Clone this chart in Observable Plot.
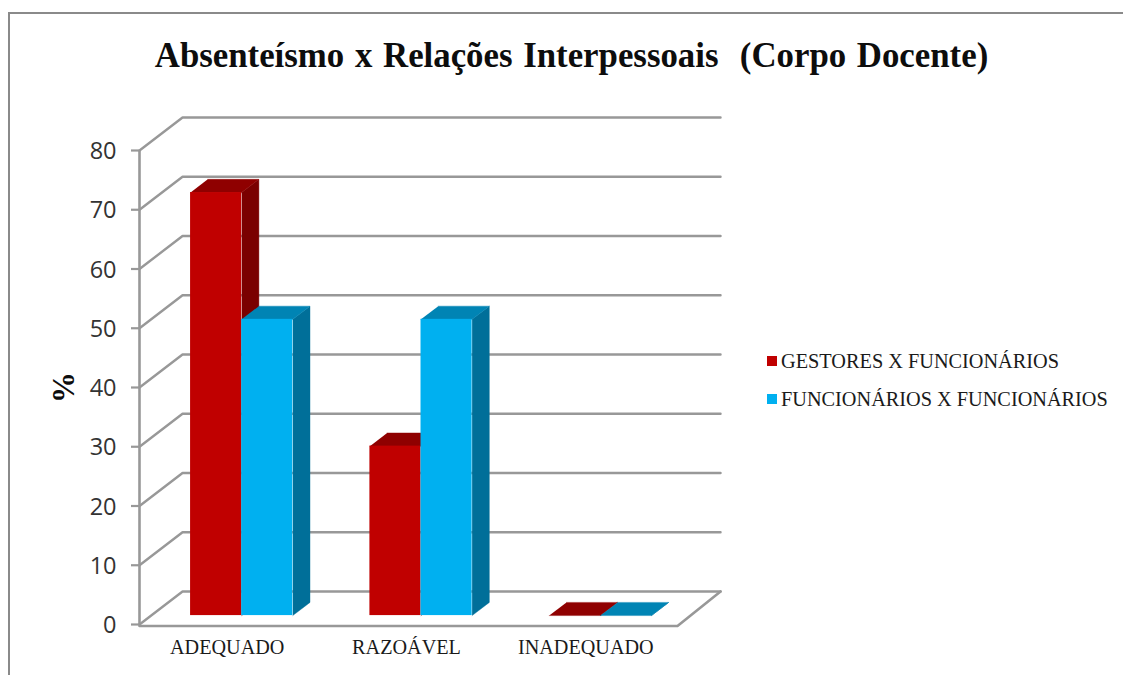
<!DOCTYPE html>
<html lang="pt">
<head>
<meta charset="utf-8">
<title>Absenteísmo x Relações Interpessoais</title>
<script src="https://cdn.jsdelivr.net/npm/d3@7"></script>
<script src="https://cdn.jsdelivr.net/npm/@observablehq/plot@0.6"></script>
<style>
  html, body { margin: 0; padding: 0; background: #fff; overflow: hidden; }
  #page { position: relative; width: 1123px; height: 675px; overflow: hidden; font-family: "Liberation Serif", serif; }
  #frame { position: absolute; left: 8px; top: 12px; width: 1200px; height: 800px; border: 2.5px solid #8a8a8a; box-sizing: border-box; }
  #chart { position: absolute; left: 0; top: 0; }
  #title { position: absolute; left: 0; top: 35px; width: 1143px; margin: 0; text-align: center; font-size: 34.8px; font-weight: bold; color: #0d0d0d; white-space: pre; word-spacing: 2px; line-height: 42px; }
  .key { position: absolute; left: 767px; font-size: 20.3px; line-height: 22px; color: #1a1a1a; white-space: nowrap; display: flex; align-items: center; }
  .key i { display: block; width: 10px; height: 10px; margin-right: 4px; }
</style>
</head>
<body>
<div id="page">
  <div id="frame"></div>
  <div id="chart"></div>
  <h1 id="title">Absenteísmo x Relações Interpessoais  (Corpo Docente)</h1>
</div>
<script>
const categories = ["ADEQUADO", "RAZOÁVEL", "INADEQUADO"];
const seriesNames = ["GESTORES X FUNCIONÁRIOS", "FUNCIONÁRIOS X FUNCIONÁRIOS"];
const gestores = [71.4, 28.6, 0];
const funcionarios = [50, 50, 0];
const yTicks = [0, 10, 20, 30, 40, 50, 60, 70, 80];

const frontColors = ["#c00000", "#00b0f0"];
const topColors = ["#8f0000", "#0084b4"];
const sideColors = ["#7a0000", "#006f99"];
const gridColor = "#989898";

// Oblique projection: depth 0 is the front of the floor, depth 1 the back wall.
const depthX = 0.24;   // category units per unit of depth
const depthY = 5.57;   // value units per unit of depth
const px = (c, d) => c + depthX * d;
const py = (v, d) => v + depthY * d;

// Bars stand between these two depths, and inside each category slot.
const barFront = 0.27;
const barBack = 0.67;
const groupStart = 0.22;
const barWidth = 0.285;

const faces = [];
const fronts = [];
[gestores, funcionarios].forEach((values, s) => {
  values.forEach((v, c) => {
    const x0 = c + groupStart + s * barWidth;
    const x1 = x0 + barWidth;
    const polygon = (name, fill, corners) => corners.forEach(([x, y]) =>
      faces.push({id: `${s}-${c}-${name}`, order: s * 10 + c, fill, x, y}));
    polygon("side", sideColors[s], [
      [px(x1, barFront), py(0, barFront)], [px(x1, barBack), py(0, barBack)],
      [px(x1, barBack), py(v, barBack)], [px(x1, barFront), py(v, barFront)]
    ]);
    polygon("top", topColors[s], [
      [px(x0, barFront), py(v, barFront)], [px(x1, barFront), py(v, barFront)],
      [px(x1, barBack), py(v, barBack)], [px(x0, barBack), py(v, barBack)]
    ]);
    if (v > 0) fronts.push({
      series: seriesNames[s], category: categories[c], value: v, fill: frontColors[s],
      x1: px(x0, barFront), x2: px(x1, barFront), y1: py(0, barFront), y2: py(v, barFront)
    });
  });
});

// Wall gridlines: a slanted run along the side wall, then across the back.
const grid = yTicks.flatMap(v => [
  {v, x: 0, y: v},
  {v, x: px(0, 1), y: py(v, 1)},
  {v, x: px(3, 1), y: py(v, 1)}
]);
// Outline of the floor's front and right edges.
const floor = [
  {x: 0, y: -0.25},
  {x: 3, y: -0.25},
  {x: px(3, 1), y: py(0, 1)}
];

const seriesOrder = seriesNames.map((_, s) => s);
const faceMark = s => Plot.line(faces.filter(f => Math.floor(f.order / 10) === s), {
  x: "x", y: "y", z: "id", fill: "fill", stroke: "fill", strokeWidth: 0.4
});
const frontMark = s => Plot.rect(fronts.filter(f => f.series === seriesNames[s]), {
  x1: "x1", x2: "x2", y1: "y1", y2: "y2", fill: "fill"
});

const chart = Plot.plot({
  width: 1123,
  height: 675,
  marginLeft: 139,
  marginRight: 446,
  marginTop: 150,
  marginBottom: 51,
  style: {background: "transparent", overflow: "visible"},
  x: {domain: [0, 3]},
  y: {domain: [0, 80]},
  color: {type: "identity"},
  marks: [
    Plot.line(grid, {x: "x", y: "y", z: "v", stroke: gridColor, strokeWidth: 2.4}),
    Plot.line(floor, {x: "x", y: "y", stroke: gridColor, strokeWidth: 2.6}),
    Plot.ruleX([0], {y1: -0.25, y2: 80, stroke: gridColor, strokeWidth: 2.6}),
    ...seriesOrder.flatMap(s => [faceMark(s), frontMark(s)]),
    Plot.axisY({
      ticks: yTicks, tickSize: 8, tickPadding: 0, stroke: gridColor, strokeWidth: 2.2, text: null
    }),
    Plot.axisY({
      ticks: yTicks, tickSize: 0, tickPadding: 23, dy: 1,
      fontFamily: "Open Sans", fontSize: 23.5, fill: "#333", label: null
    }),
    Plot.axisX({
      ticks: categories.map((_, i) => i + 0.5), tickFormat: t => categories[t - 0.5],
      tickSize: 0, tickPadding: 15, fontFamily: "Liberation Serif", fontSize: 20.2, fill: "#1a1a1a", label: null, dx: -2
    }),
    Plot.text(["%"], {
      frameAnchor: "left", textAnchor: "middle", dx: -75, rotate: -90, fontFamily: "Liberation Serif",
      fontWeight: "bold", fontSize: 31, fill: "#0d0d0d"
    })
  ]
});
document.getElementById("chart").append(chart);

// Series key, to the right of the plot.
const page = document.getElementById("page");
seriesNames.forEach((name, s) => {
  const key = document.createElement("div");
  key.className = "key";
  key.style.top = (350 + s * 38) + "px";
  const swatch = document.createElement("i");
  swatch.style.background = frontColors[s];
  key.append(swatch, name);
  page.append(key);
});
</script>
</body>
</html>
